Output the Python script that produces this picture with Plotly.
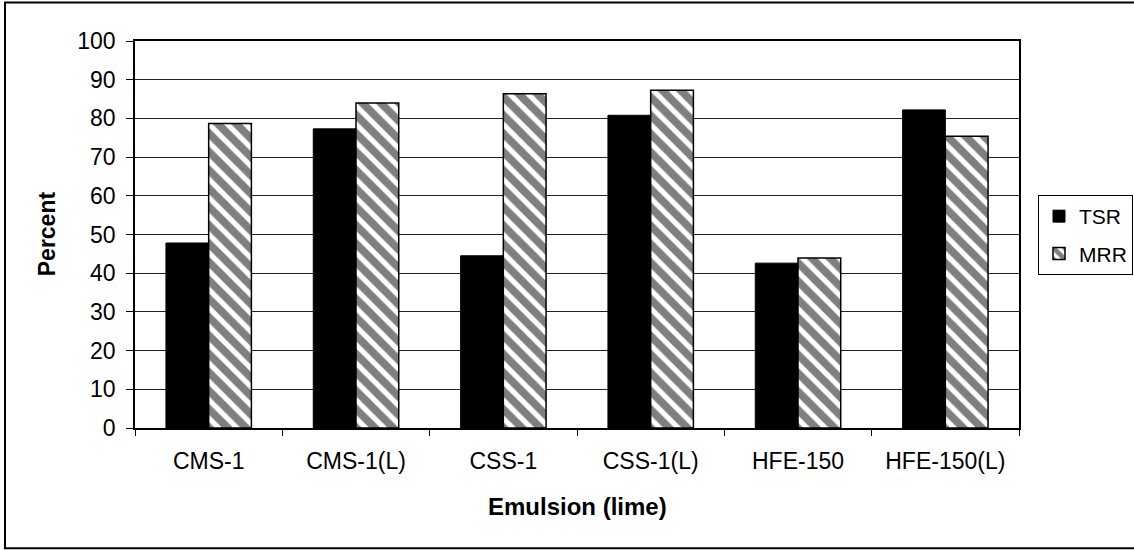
import plotly.graph_objects as go

categories = ["CMS-1", "CMS-1(L)", "CSS-1", "CSS-1(L)", "HFE-150", "HFE-150(L)"]
tsr = [47.8, 77.3, 44.5, 80.8, 42.6, 82.2]
mrr = [78.7, 84.0, 86.4, 87.3, 43.9, 75.4]
y_ticks = [0, 10, 20, 30, 40, 50, 60, 70, 80, 90, 100]

W, H = 1134, 550
L, R, T, B = 135, 1019, 40.5, 428

FONT = "Liberation Sans, Arial, sans-serif"

fig = go.Figure()
fig.add_trace(go.Bar(
    name="TSR", x=categories, y=tsr, legendgroup="a",
    marker=dict(color="black", line=dict(color="black", width=1)),
))
fig.add_trace(go.Bar(
    name="MRR", x=categories, y=mrr, legendgroup="b",
    marker=dict(color="white", line=dict(color="black", width=1.5),
                pattern=dict(shape="\\", fgcolor="black", bgcolor="white",
                             size=13, solidity=0.6)),
))

def px_x(px):
    return (px - L) / (R - L)

def px_y(py):
    return (B - py) / (B - T)

fig.update_layout(
    width=W, height=H,
    margin=dict(l=L, r=W - R, t=T, b=H - B, pad=0, autoexpand=False),
    paper_bgcolor="white", plot_bgcolor="white",
    barmode="group", bargap=0.42, bargroupgap=0,
    font=dict(family=FONT, size=22, color="black"),
    showlegend=True,
    legend=dict(
        xref="container", yref="container",
        x=1038 / W, y=1 - 195 / H, xanchor="left", yanchor="top",
        bordercolor="black", borderwidth=1, bgcolor="white",
        font=dict(family=FONT, size=21, color="black"),
        tracegroupgap=7, traceorder="grouped", itemwidth=30,
    ),
    xaxis=dict(
        type="category", showline=True, linecolor="black", linewidth=1.5,
        mirror=True, ticks="outside", ticklen=6, tickcolor="black",
        tickson="boundaries", showgrid=False, ticklabelstandoff=12,
        tickfont=dict(family=FONT, size=23, color="black"),
    ),
    yaxis=dict(
        range=[0, 100], tickvals=y_ticks, showline=True, linecolor="black",
        linewidth=1.5, mirror=True, ticks="outside", ticklen=7,
        tickcolor="black", showgrid=True, gridcolor="#222", gridwidth=1,
        zeroline=False, ticklabelstandoff=6,
        tickfont=dict(family=FONT, size=23, color="black"),
    ),
    annotations=[
        dict(text="<b>Emulsion (lime)</b>", xref="paper", yref="paper",
             x=0.5, y=px_y(507), xanchor="center", yanchor="middle",
             showarrow=False, font=dict(family=FONT, size=24, color="black")),
        dict(text="<b>Percent</b>", xref="paper", yref="paper",
             x=px_x(47), y=px_y(234), xanchor="center", yanchor="middle",
             textangle=-90, showarrow=False,
             font=dict(family=FONT, size=23, color="black")),
    ],
    shapes=[
        dict(type="rect", xref="paper", yref="paper",
             x0=px_x(5), x1=px_x(1140), y0=px_y(548.5), y1=px_y(2),
             line=dict(color="black", width=2), fillcolor="rgba(0,0,0,0)",
             layer="below"),
    ],
)

fig.write_html("out.html", config={"displayModeBar": False},
               post_script="document.body.style.margin='0';document.body.style.overflow='hidden';")
